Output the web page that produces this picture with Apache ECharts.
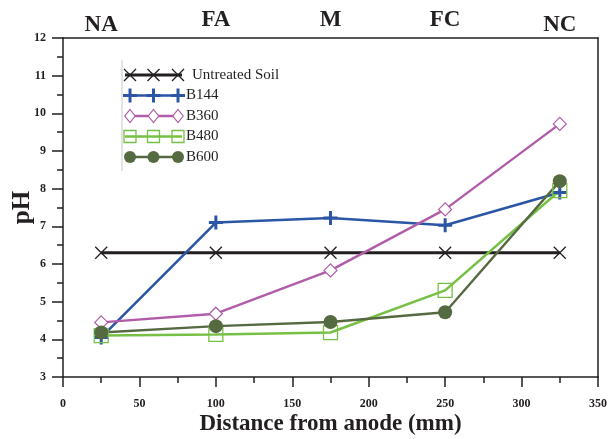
<!DOCTYPE html>
<html>
<head>
<meta charset="utf-8">
<script src="https://cdn.jsdelivr.net/npm/echarts@6/dist/echarts.min.js"></script>
<style>
  html, body { margin: 0; padding: 0; background: #fff; }
  #chart { width: 609px; height: 439px; }
</style>
</head>
<body>
<div id="chart"></div>
<script>
// Sampling positions along the soil column (mm from anode)
const distances = [25, 100, 175, 250, 325];
// Section names above each sampling position
const zoneLabels = ['NA', 'FA', 'M', 'FC', 'NC'];
// pH measured in each section
const untreatedSoil = [6.3, 6.3, 6.3, 6.3, 6.3];
const b144 = [4.05, 7.1, 7.22, 7.03, 7.9];
const b360 = [4.45, 4.68, 5.83, 7.45, 9.72];
const b480 = [4.1, 4.13, 4.18, 5.3, 7.95];
const b600 = [4.18, 4.35, 4.46, 4.72, 8.2];

const serif = '"Liberation Serif", "Times New Roman", serif';
const crossPath = 'path://M0,0L10,10M10,0L0,10';
const plusPath = 'path://M5,0L5,10M0,5L10,5';

const styles = [
  { name: 'Untreated Soil', data: untreatedSoil, color: '#231f20', symbol: crossPath, size: 12, fill: 'none', bw: 1.3, lw: 3 },
  { name: 'B144', data: b144, color: '#2b56a6', symbol: plusPath, size: 14, fill: 'none', bw: 3, lw: 2.6 },
  { name: 'B360', data: b360, color: '#b15ca8', symbol: 'diamond', size: 13, fill: '#ffffff', bw: 1.2, lw: 2.4 },
  { name: 'B480', data: b480, color: '#77c046', symbol: 'rect', size: 14, fill: 'rgba(255,255,255,0)', bw: 1.3, lw: 2.6 },
  { name: 'B600', data: b600, color: '#566a42', symbol: 'circle', size: 14, fill: '#566a42', bw: 0, lw: 2.4 }
];

const series = styles.map(s => ({
  name: s.name,
  type: 'line',
  data: distances.map((d, i) => [d, s.data[i]]),
  symbol: s.symbol,
  symbolSize: s.size,
  showAllSymbol: true,
  lineStyle: { color: s.color, width: s.lw },
  itemStyle: { color: s.fill, borderColor: s.color, borderWidth: s.bw },
  emphasis: { disabled: true },
  z: 2
}));

const chart = echarts.init(document.getElementById('chart'), null, { renderer: 'canvas' });

const axisLineStyle = { color: '#231f20', width: 1.5 };

chart.setOption({
  animation: false,
  backgroundColor: '#ffffff',
  grid: { left: 63, right: 11, top: 38, bottom: 62, containLabel: false, outerBoundsMode: 'none' },
  xAxis: [{
    type: 'value', min: 0, max: 350, interval: 50,
    name: 'Distance from anode (mm)', nameLocation: 'middle', nameGap: 36, nameMoveOverlap: false,
    nameTextStyle: { fontFamily: serif, fontWeight: 'bold', fontSize: 23, color: '#231f20' },
    axisLine: { onZero: false, lineStyle: axisLineStyle },
    axisTick: { length: 10, lineStyle: axisLineStyle },
    minorTick: { show: true, splitNumber: 2, length: 6, lineStyle: axisLineStyle },
    axisLabel: { margin: 21, fontFamily: serif, fontWeight: 'bold', fontSize: 12, color: '#231f20' },
    splitLine: { show: false }
  }, {
    type: 'value', min: 0, max: 350, position: 'top',
    axisLine: { show: true, onZero: false, lineStyle: axisLineStyle },
    axisTick: { show: false }, axisLabel: { show: false }, splitLine: { show: false }
  }],
  yAxis: [{
    type: 'value', min: 3, max: 12, interval: 1,
    name: 'pH', nameLocation: 'middle', nameGap: 28, nameRotate: 90, nameMoveOverlap: false,
    nameTextStyle: { fontFamily: serif, fontWeight: 'bold', fontSize: 25, color: '#231f20' },
    axisLine: { show: true, onZero: false, lineStyle: axisLineStyle },
    axisTick: { show: true, length: 11, lineStyle: axisLineStyle },
    minorTick: { show: true, splitNumber: 2, length: 6, lineStyle: axisLineStyle },
    axisLabel: { margin: 17, fontFamily: serif, fontWeight: 'bold', fontSize: 12, color: '#231f20' },
    splitLine: { show: false }
  }, {
    type: 'value', min: 3, max: 12, position: 'right',
    axisLine: { show: true, onZero: false, lineStyle: axisLineStyle },
    axisTick: { show: false }, axisLabel: { show: false }, splitLine: { show: false }
  }],
  series: series
});

// Section names above the plot, placed through the x scale
const zoneTexts = zoneLabels.map((label, i) => {
  const px = chart.convertToPixel({ xAxisIndex: 0 }, distances[i]);
  const edge = (i === 0 || i === zoneLabels.length - 1);
  return {
    type: 'text', x: px, y: edge ? 25 : 20,
    style: {
      text: label, align: 'center', verticalAlign: 'middle',
      font: 'bold 23px ' + serif, fill: '#231f20'
    }
  };
});

// Legend: sample line with three markers per entry
function markerShape(s, cx, cy) {
  const h = s.size / 2;
  if (s.symbol === crossPath) {
    return { type: 'polyline', shape: { points: [[cx - h, cy - h], [cx + h, cy + h], [cx, cy], [cx + h, cy - h], [cx - h, cy + h]] },
      style: { stroke: s.color, lineWidth: s.bw, fill: null } };
  }
  if (s.symbol === plusPath) {
    return { type: 'group', children: [
      { type: 'line', shape: { x1: cx, y1: cy - h, x2: cx, y2: cy + h }, style: { stroke: s.color, lineWidth: s.bw } },
      { type: 'line', shape: { x1: cx - h, y1: cy, x2: cx + h, y2: cy }, style: { stroke: s.color, lineWidth: s.bw } }
    ] };
  }
  if (s.symbol === 'diamond') {
    return { type: 'polygon', shape: { points: [[cx, cy - h], [cx + h * 0.8, cy], [cx, cy + h], [cx - h * 0.8, cy]] },
      style: { fill: '#ffffff', stroke: s.color, lineWidth: s.bw } };
  }
  if (s.symbol === 'rect') {
    return { type: 'rect', shape: { x: cx - h + 1, y: cy - h + 1, width: s.size - 2, height: s.size - 2 },
      style: { fill: null, stroke: s.color, lineWidth: s.bw } };
  }
  return { type: 'circle', shape: { cx: cx, cy: cy, r: h - 1 }, style: { fill: s.color } };
}

const legendLeft = 127, legendRight = 180, legendTop = 75, rowGap = 20.5;
const legendChildren = [{
  type: 'line', shape: { x1: 122, y1: 60, x2: 122, y2: 171 },
  style: { stroke: '#c8c8c8', lineWidth: 1 }
}];
styles.forEach((s, i) => {
  const cy = legendTop + i * rowGap;
  legendChildren.push({ type: 'line', shape: { x1: legendLeft - 2, y1: cy, x2: legendRight + 2, y2: cy },
    style: { stroke: s.color, lineWidth: s.lw } });
  [legendLeft + 3, (legendLeft + legendRight) / 2, legendRight - 2].forEach(cx => {
    const m = markerShape(s, cx, cy);
    m.z = 5;
    legendChildren.push(m);
  });
  legendChildren.push({ type: 'text', x: legendRight + (i === 0 ? 12 : 6), y: cy,
    style: { text: s.name, verticalAlign: 'middle', font: '15px ' + serif, fill: '#231f20' } });
});

chart.setOption({
  graphic: [
    { type: 'group', children: zoneTexts },
    { type: 'group', children: legendChildren }
  ]
});
</script>
</body>
</html>
